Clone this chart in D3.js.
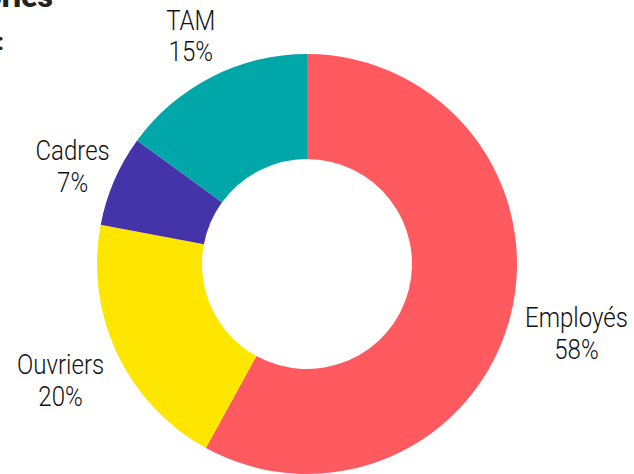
<!DOCTYPE html>
<html>
<head>
<meta charset="utf-8">
<script src="https://cdn.jsdelivr.net/npm/d3@7"></script>
<style>
  html, body { margin: 0; padding: 0; background: #fff; }
  #viz { width: 634px; height: 474px; overflow: hidden; }
  text { font-family: Roboto, "Noto Sans", sans-serif; }
</style>
</head>
<body>
<div id="viz"></div>
<script>
// categories and shares (%), clockwise from 12 o'clock
const categories = ["Employés", "Ouvriers", "Cadres", "TAM"];
const shares = [58, 20, 7, 15];
const colors = ["#ff5a5f", "#ffe600", "#4533aa", "#00a6a8"];

const width = 634, height = 474;
const cx = 307, cy = 264;
const outerR = 210, innerR = 105;

const svg = d3.select("#viz").append("svg")
    .attr("width", width)
    .attr("height", height);

// title, cut off by the frame (only its tail shows)
svg.append("text")
    .attr("x", 53).attr("y", 7)
    .attr("text-anchor", "end")
    .style("font-weight", 900)
    .style("font-size", "30px")
    .attr("fill", "#222")
    .text("Répartition des salariés par catégories");
svg.append("text")
    .attr("x", 4).attr("y", 50)
    .attr("text-anchor", "end")
    .style("font-weight", "bold")
    .style("font-size", "24px")
    .attr("fill", "#222")
    .text("en 2020 :");

const pie = d3.pie().sort(null).value(d => d.value);
const arcs = pie(categories.map((c, i) => ({ name: c, value: shares[i], color: colors[i] })));
const arc = d3.arc().innerRadius(innerR).outerRadius(outerR);

const g = svg.append("g").attr("transform", `translate(${cx},${cy})`);

g.selectAll("path")
    .data(arcs)
    .join("path")
    .attr("d", arc)
    .attr("fill", d => d.data.color);

// labels: two lines, pushed outside the ring along the mid angle
const fs = 27, lh = 32;
const sx = 0.89; // narrow the face a little, the original uses a condensed font
const gap = 12;
const nudge = { "Cadres": [10, 8] }; // hand-placed in the original
const lab = g.selectAll("g.lab")
    .data(arcs)
    .join("g")
    .attr("class", "lab");

const txt = lab.append("text")
    .attr("text-anchor", "middle")
    .style("font-size", fs + "px")
    .style("font-weight", 300)
    .attr("fill", "#111");
txt.append("tspan").attr("x", 0).attr("y", 0).text(d => d.data.name);
txt.append("tspan").attr("x", 0).attr("y", lh).text(d => d.data.value + "%");

lab.each(function (d) {
    const t = d3.select(this).select("text");
    const bb = t.node().getBBox();
    const capTop = -0.71 * fs;
    const hw = bb.width * sx / 2, hh = (lh - capTop) / 2;
    const oy = (capTop + lh) / 2;
    const a = (d.startAngle + d.endAngle) / 2;
    const ux = Math.sin(a), uy = -Math.cos(a);
    const dist = outerR + gap + Math.abs(ux) * hw + Math.abs(uy) * hh;
    const [nx, ny] = nudge[d.data.name] || [0, 0];
    const mx = ux * dist + nx, my = uy * dist + ny;
    t.attr("transform", `translate(${mx},${my - oy}) scale(${sx},1)`);
});
</script>
</body>
</html>
